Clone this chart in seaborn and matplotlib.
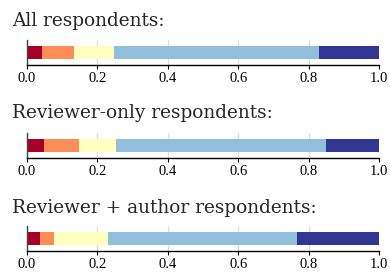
import matplotlib
matplotlib.use("Agg")
from matplotlib import pyplot as plt
import numpy as np
import pandas as pd
import seaborn as sns

groups = ["All respondents:", "Reviewer-only respondents:", "Reviewer + author respondents:"]
levels = ["1", "2", "3", "4", "5"]
all_resp = [0.043, 0.091, 0.114, 0.582, 0.170]
reviewer_only = [0.047, 0.101, 0.105, 0.596, 0.151]
reviewer_author = [0.038, 0.039, 0.153, 0.536, 0.234]
colors = ["#a50026", "#fc8d59", "#ffffbf", "#91bfdb", "#313695"]
ticks = [0.0, 0.2, 0.4, 0.6, 0.8, 1.0]

rows = []
for g, vals in zip(groups, [all_resp, reviewer_only, reviewer_author]):
    for lvl, v, c in zip(levels, vals, np.cumsum(vals)):
        rows.append({"group": g, "level": lvl, "share": v, "cum": c})
df = pd.DataFrame(rows)

sns.set_style("whitegrid")
plt.rcParams["font.family"] = ["DejaVu Serif"]

fig = plt.figure(figsize=(3.9, 2.72), dpi=100)
bottoms = [0.761, 0.419, 0.077]
title_y = [0.904, 0.566, 0.217]

for g, b, ty in zip(groups, bottoms, title_y):
    ax = fig.add_axes([27 / 390, b, 352 / 390, 25 / 272])
    sub = df[df["group"] == g]
    # stacked look: draw cumulative bars from the longest to the shortest
    for lvl, col in reversed(list(zip(levels, colors))):
        sns.barplot(data=sub[sub["level"] == lvl], x="cum", y="group", orient="h",
                    color=col, saturation=1, width=0.55, linewidth=0, ax=ax)
    ax.set_xlim(0, 1)
    ax.set_xticks(ticks)
    ax.set_xticklabels([f"{t:.1f}" for t in ticks], family="Liberation Serif")
    ax.set_yticks([])
    ax.set_xlabel("")
    ax.set_ylabel("")
    ax.grid(axis="y", visible=False)
    ax.grid(axis="x", color="#dddddd", linewidth=0.9)
    ax.set_axisbelow(True)
    for s in ["top", "right"]:
        ax.spines[s].set_visible(False)
    ax.spines["left"].set_color("#444444")
    ax.spines["bottom"].set_color("black")
    ax.spines["left"].set_linewidth(1)
    ax.spines["bottom"].set_linewidth(1)
    ax.tick_params(axis="x", bottom=True, length=3, width=0.8, pad=2,
                   labelsize=10.5, colors="black")
    fig.text(12 / 390, ty, g, fontsize=13.3, va="baseline", ha="left")

fig.savefig("out.png", dpi=100)
